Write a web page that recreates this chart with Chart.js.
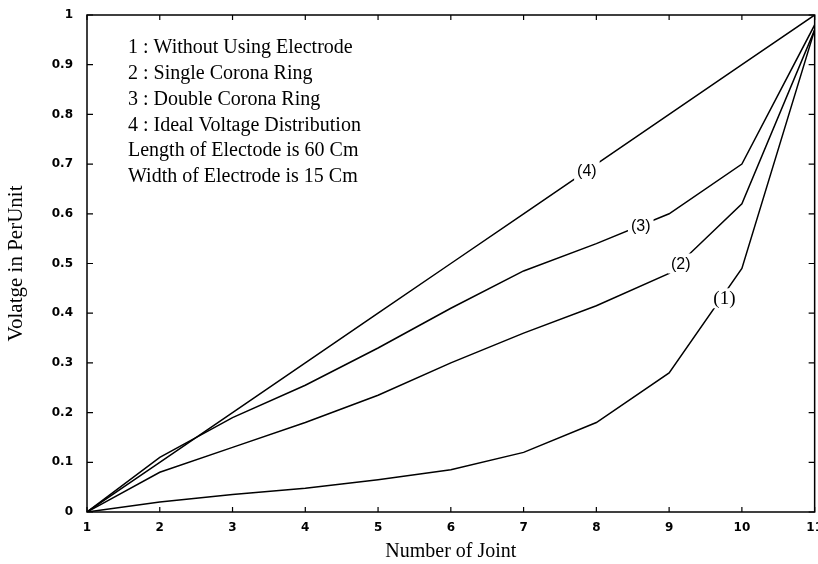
<!DOCTYPE html>
<html>
<head>
<meta charset="utf-8">
<script src="https://cdn.jsdelivr.net/npm/chart.js@4.4.0/dist/chart.umd.min.js"></script>
<style>
  html, body { margin: 0; padding: 0; background: #fff; overflow: hidden; }
  #wrap { width: 818px; height: 564px; overflow: hidden; }
</style>
</head>
<body>
<div id="wrap"><canvas id="voltChart" width="832" height="564"></canvas></div>
<script>
// Number of joint (x) and voltage per unit for each curve
const joints = [1, 2, 3, 4, 5, 6, 7, 8, 9, 10, 11];
const withoutElectrode = [0, 0.02, 0.035, 0.048, 0.065, 0.085, 0.12, 0.18, 0.28, 0.49, 0.97];
const singleRing = [0, 0.08, 0.13, 0.18, 0.235, 0.30, 0.36, 0.415, 0.48, 0.62, 0.97];
const doubleRing = [0, 0.11, 0.19, 0.255, 0.33, 0.41, 0.485, 0.54, 0.60, 0.70, 0.98];
const idealDist = [0, 0.1, 0.2, 0.3, 0.4, 0.5, 0.6, 0.7, 0.8, 0.9, 1.0];

const yTicks = [0, 0.1, 0.2, 0.3, 0.4, 0.5, 0.6, 0.7, 0.8, 0.9, 1];

// curve tags "(n)" placed on the curves (data units)
const curveTags = ['(1)', '(2)', '(3)', '(4)'];
const tagX = [9.76, 9.16, 8.61, 7.87];
const tagY = [0.43, 0.50, 0.577, 0.687];

const notes = [
  '1 : Without Using Electrode',
  '2 : Single Corona Ring',
  '3 : Double Corona Ring',
  '4 : Ideal Voltage Distribution',
  'Length of Electode is 60 Cm',
  'Width of Electrode is 15 Cm'
];

const toPoints = vals => joints.map((j, i) => ({ x: j, y: vals[i] }));

const lineStyle = {
  borderColor: '#000',
  borderWidth: 1.5,
  pointRadius: 0,
  tension: 0,
  fill: false
};

// frame, inward tick marks, curve tags and the note block
const decorations = {
  id: 'decorations',
  afterDatasetsDraw(chart) {
    const { ctx, chartArea: a, scales: { x, y } } = chart;
    ctx.save();
    ctx.strokeStyle = '#000';
    ctx.lineWidth = 1.5;
    ctx.strokeRect(a.left, a.top, a.right - a.left, a.bottom - a.top);
    ctx.lineWidth = 1.2;
    ctx.beginPath();
    joints.forEach(j => {
      const px = x.getPixelForValue(j);
      ctx.moveTo(px, a.bottom); ctx.lineTo(px, a.bottom - 5);
      ctx.moveTo(px, a.top); ctx.lineTo(px, a.top + 5);
    });
    yTicks.forEach(v => {
      const py = y.getPixelForValue(v);
      ctx.moveTo(a.left, py); ctx.lineTo(a.left + 6, py);
      ctx.moveTo(a.right, py); ctx.lineTo(a.right - 6, py);
    });
    ctx.stroke();

    // curve tags with white knock-out
    ctx.textAlign = 'center';
    ctx.textBaseline = 'middle';
    curveTags.forEach((t, i) => {
      const px = x.getPixelForValue(tagX[i]);
      const py = y.getPixelForValue(tagY[i]);
      ctx.font = i === 0 ? '19px "Liberation Serif"' : '16px "Liberation Sans"';
      const w = ctx.measureText(t).width;
      ctx.fillStyle = '#fff';
      ctx.fillRect(px - w / 2 - 3, py - 10, w + 6, 20);
      ctx.fillStyle = '#000';
      ctx.fillText(t, px, py + 1);
    });

    // note block
    ctx.textAlign = 'left';
    ctx.font = '20px "Liberation Serif"';
    notes.forEach((n, i) => {
      ctx.fillText(n, a.left + 41, a.top + 33 + i * 25.8);
    });
    ctx.restore();
  }
};

new Chart(document.getElementById('voltChart'), {
  type: 'line',
  data: {
    datasets: [
      { label: '1 : Without Using Electrode', data: toPoints(withoutElectrode), ...lineStyle },
      { label: '2 : Single Corona Ring', data: toPoints(singleRing), ...lineStyle },
      { label: '3 : Double Corona Ring', data: toPoints(doubleRing), ...lineStyle },
      { label: '4 : Ideal Voltage Distribution', data: toPoints(idealDist), ...lineStyle }
    ]
  },
  options: {
    responsive: false,
    animation: false,
    layout: { padding: { top: 15, right: 11, left: 0, bottom: 0 } },
    plugins: {
      legend: { display: false },
      tooltip: { enabled: false }
    },
    scales: {
      x: {
        type: 'linear',
        min: 1,
        max: 11,
        afterBuildTicks: s => { s.ticks = joints.map(v => ({ value: v })); },
        afterFit: s => { s.height = 52; },
        grid: { display: false, drawTicks: false },
        border: { display: false },
        ticks: {
          color: '#000',
          padding: 9,
          maxRotation: 0,
          autoSkip: false,
          font: { family: '"DejaVu Sans"', size: 12, weight: 'bold' },
          callback: v => String(v)
        },
        title: {
          display: true,
          text: 'Number of Joint',
          color: '#000',
          padding: { top: 0, bottom: 0 },
          font: { family: '"Liberation Serif"', size: 20 }
        }
      },
      y: {
        min: 0,
        max: 1,
        afterBuildTicks: s => { s.ticks = yTicks.map(v => ({ value: v })); },
        afterFit: s => { s.width = 87; s.paddingTop = 0; s.paddingBottom = 0; },
        grid: { display: false, drawTicks: false },
        border: { display: false },
        ticks: {
          color: '#000',
          padding: 14,
          font: { family: '"DejaVu Sans"', size: 12, weight: 'bold' },
          callback: v => String(+v.toFixed(1))
        },
        title: {
          display: true,
          text: 'Volatge in PerUnit',
          color: '#000',
          padding: { top: 4, bottom: 0 },
          font: { family: '"Liberation Serif"', size: 21 }
        }
      }
    }
  },
  plugins: [decorations]
});
</script>
</body>
</html>
